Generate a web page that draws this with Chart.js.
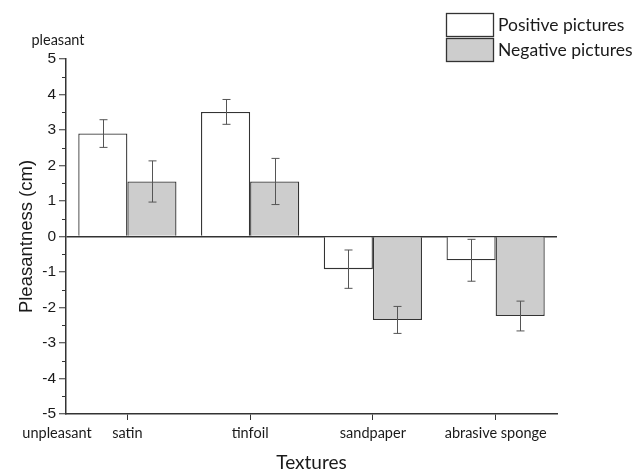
<!DOCTYPE html>
<html>
<head>
<meta charset="utf-8">
<script src="https://cdn.jsdelivr.net/npm/chart.js@4.4.0/dist/chart.umd.min.js"></script>
<style>
  html, body { margin: 0; padding: 0; background: #fff; }
  #wrap { width: 644px; height: 474px; position: relative; }
</style>
</head>
<body>
<div id="wrap"><canvas id="grafico"></canvas></div>
<script>
// dados
const texturas = ['satin', 'tinfoil', 'sandpaper', 'abrasive sponge'];
const positivas = [2.9, 3.51, -0.92, -0.67];
const positivasErro = [0.39, 0.35, 0.54, 0.59];
const negativas = [1.55, 1.55, -2.35, -2.24];
const negativasErro = [0.58, 0.65, 0.38, 0.42];
const yTicks = [-5, -4, -3, -2, -1, 0, 1, 2, 3, 4, 5];

const fonteCalibri = 'Lato, "Open Sans", sans-serif';
const fonteArial = '"Liberation Sans", Arial, sans-serif';

// barras de erro desenhadas a partir das escalas
const errorBars = {
  id: 'errorBars',
  afterDatasetsDraw(chart) {
    const ctx = chart.ctx;
    const y = chart.scales.y;
    ctx.save();
    ctx.strokeStyle = '#555';
    ctx.lineWidth = 1;
    chart.data.datasets.forEach(function(ds, i) {
      const meta = chart.getDatasetMeta(i);
      meta.data.forEach(function(bar, j) {
        const v = ds.data[j], e = ds.erros[j];
        const top = y.getPixelForValue(v + e);
        const bot = y.getPixelForValue(v - e);
        const x = Math.round(bar.x) + 0.5;
        ctx.beginPath();
        ctx.moveTo(x, top); ctx.lineTo(x, bot);
        ctx.moveTo(x - 4, top); ctx.lineTo(x + 4, top);
        ctx.moveTo(x - 4, bot); ctx.lineTo(x + 4, bot);
        ctx.stroke();
      });
    });
    ctx.restore();
  }
};

// ticks menores, textos extras e legenda
const extras = {
  id: 'extras',
  afterDraw(chart) {
    const ctx = chart.ctx;
    const y = chart.scales.y;
    const area = chart.chartArea;
    ctx.save();
    ctx.strokeStyle = '#333';
    ctx.lineWidth = 1;
    for (let v = -4.5; v < 5; v += 1) {
      const py = Math.round(y.getPixelForValue(v)) + 0.5;
      ctx.beginPath();
      ctx.moveTo(area.left - 4, py); ctx.lineTo(area.left, py);
      ctx.stroke();
    }
    ctx.fillStyle = '#1a1a1a';
    ctx.font = '14.5px ' + fonteCalibri;
    ctx.textAlign = 'center';
    ctx.textBaseline = 'middle';
    ctx.fillText('pleasant', area.left - 8, area.top - 19);
    ctx.fillText('unpleasant', area.left - 9, area.bottom + 19);

    // legenda
    const lx = 446, ly = 13, w = 47, h = 23;
    ctx.font = '17.5px ' + fonteCalibri;
    ctx.textAlign = 'left';
    chart.data.datasets.forEach(function(ds, i) {
      const top = ly + i * (h + 2);
      ctx.fillStyle = ds.backgroundColor;
      ctx.fillRect(lx, top, w, h);
      ctx.strokeStyle = '#333';
      ctx.lineWidth = 1.3;
      ctx.strokeRect(lx + 0.5, top + 0.5, w, h);
      ctx.fillStyle = '#1a1a1a';
      ctx.fillText(ds.label, lx + w + 5, top + h / 2 + 1);
    });
    ctx.restore();
  }
};

new Chart(document.getElementById('grafico'), {
  type: 'bar',
  data: {
    labels: texturas,
    datasets: [
      { label: 'Positive pictures', data: positivas, erros: positivasErro,
        backgroundColor: '#ffffff', borderColor: '#333', borderWidth: 1.3 },
      { label: 'Negative pictures', data: negativas, erros: negativasErro,
        backgroundColor: '#cdcdcd', borderColor: '#333', borderWidth: 1.3 }
    ]
  },
  options: {
    responsive: true,
    maintainAspectRatio: false,
    animation: false,
    layout: { padding: { top: 59, left: 0, right: 87, bottom: 0 } },
    datasets: { bar: { categoryPercentage: 0.8, barPercentage: 1.0 } },
    plugins: { legend: { display: false }, tooltip: { enabled: false } },
    scales: {
      x: {
        offset: true,
        grid: { drawOnChartArea: false, offset: false, tickLength: 6, tickColor: '#333' },
        border: { display: true, color: '#333', width: 1.5 },
        ticks: { color: '#1a1a1a', font: { family: fonteCalibri, size: 14.5 }, padding: 5, maxRotation: 0 },
        title: { display: true, text: 'Textures', color: '#1a1a1a',
                 font: { family: fonteCalibri, size: 19 }, padding: { top: 10, bottom: 0 } },
        afterFit(scale) { scale.height = 60; }
      },
      y: {
        min: -5, max: 5,
        afterBuildTicks(scale) { scale.ticks = yTicks.map(v => ({ value: v })); },
        grid: {
          drawOnChartArea: true,
          color: ctx => (ctx.tick && ctx.tick.value === 0) ? '#333' : 'rgba(0,0,0,0)',
          lineWidth: 1.5,
          tickLength: 7, tickColor: '#333', tickWidth: 1
        },
        border: { display: true, color: '#333', width: 1.5 },
        ticks: { color: '#1a1a1a', font: { family: fonteArial, size: 15.5 }, padding: 3 },
        title: { display: true, text: 'Pleasantness (cm)', color: '#1a1a1a',
                 font: { family: fonteArial, size: 18.5 }, padding: { top: 16, bottom: 0 } },
        afterFit(scale) { scale.width = 66; }
      }
    }
  },
  plugins: [errorBars, extras]
});
</script>
</body>
</html>
